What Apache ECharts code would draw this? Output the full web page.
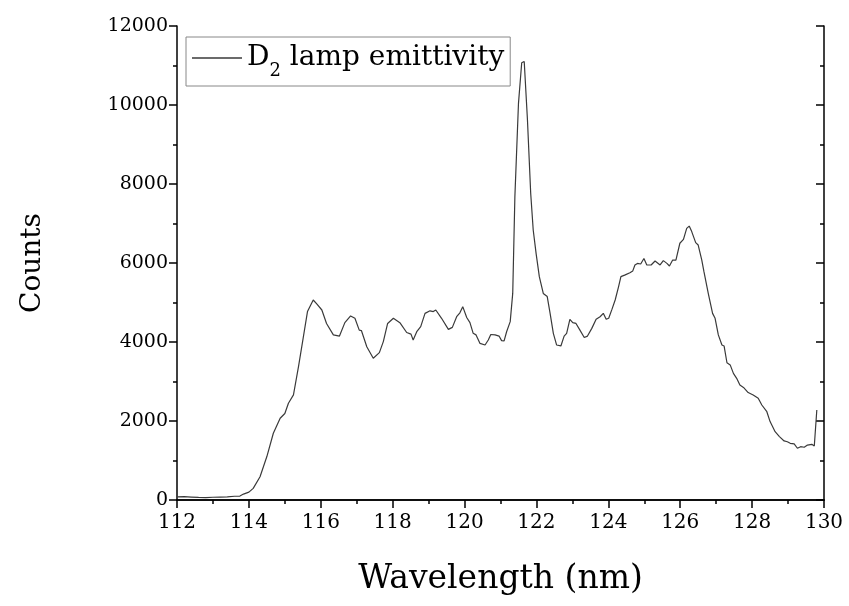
<!DOCTYPE html>
<html>
<head>
<meta charset="utf-8">
<script src="https://cdn.jsdelivr.net/npm/echarts@6/dist/echarts.min.js"></script>
<style>html,body{margin:0;padding:0;background:#fff}#c{width:849px;height:606px}</style>
</head>
<body>
<div id="c"></div>
<script>
const wavelength = [112.0,112.2,112.4,112.6,112.8,113.0,113.2,113.4,113.6,113.75,113.85,114.0,114.12,114.31,114.5,114.68,114.87,115.0,115.1,115.24,115.38,115.51,115.63,115.79,115.9,116.03,116.16,116.35,116.52,116.67,116.83,116.95,117.07,117.13,117.28,117.46,117.63,117.74,117.86,118.02,118.2,118.39,118.51,118.57,118.67,118.78,118.9,119.04,119.13,119.2,119.36,119.55,119.66,119.78,119.87,119.95,120.0,120.06,120.15,120.24,120.32,120.43,120.57,120.66,120.73,120.85,120.96,121.03,121.1,121.17,121.27,121.34,121.4,121.5,121.59,121.66,121.75,121.84,121.91,121.99,122.08,122.19,122.3,122.38,122.47,122.56,122.68,122.77,122.84,122.93,123.01,123.1,123.21,123.33,123.42,123.54,123.66,123.77,123.86,123.94,124.01,124.1,124.19,124.28,124.35,124.47,124.6,124.68,124.74,124.81,124.9,124.99,125.07,125.19,125.3,125.44,125.53,125.63,125.7,125.79,125.88,125.99,126.09,126.18,126.25,126.32,126.43,126.5,126.6,126.66,126.78,126.9,126.97,127.06,127.16,127.22,127.3,127.39,127.48,127.57,127.66,127.76,127.89,128.03,128.17,128.27,128.41,128.5,128.64,128.76,128.89,128.98,129.06,129.17,129.26,129.35,129.45,129.54,129.66,129.73,129.8];
const counts = [80,85,75,65,60,70,75,80,95,100,150,200,295,590,1100,1690,2070,2190,2450,2660,3375,4100,4770,5063,4950,4810,4470,4180,4150,4490,4660,4600,4300,4290,3880,3590,3730,4010,4470,4600,4490,4240,4200,4050,4260,4390,4725,4790,4770,4810,4600,4320,4370,4640,4740,4895,4880,4620,4490,4220,4180,3965,3925,4050,4190,4180,4150,4035,4030,4260,4515,5230,7680,10040,11070,11100,9620,7765,6835,6245,5655,5230,5150,4725,4220,3925,3900,4150,4220,4575,4490,4470,4300,4115,4150,4345,4575,4640,4725,4575,4600,4825,5063,5385,5655,5700,5755,5800,5950,5990,5975,6115,5950,5950,6050,5950,6060,5990,5925,6075,6075,6500,6600,6875,6935,6795,6515,6455,6075,5780,5230,4725,4600,4180,3925,3900,3475,3420,3205,3080,2910,2850,2720,2660,2575,2405,2235,1985,1730,1605,1495,1475,1435,1420,1310,1350,1335,1390,1410,1365,2280];
const xTicks = {min:112, max:130, interval:2};
const yTicks = {min:0, max:12000, interval:2000};
const seriesName = 'D2 lamp emittivity';

const FONT = 'DejaVu Serif';
const chart = echarts.init(document.getElementById('c'), null, {renderer:'canvas'});
const axisLine = {show:true, lineStyle:{color:'#000', width:1.5}};
const plain = v => String(v);
const baseX = {type:'value', min:xTicks.min, max:xTicks.max, interval:xTicks.interval, splitLine:{show:false}, axisLine:axisLine};
const baseY = {type:'value', min:yTicks.min, max:yTicks.max, interval:yTicks.interval, splitLine:{show:false}, axisLine:axisLine};
chart.setOption({
  animation:false,
  backgroundColor:'#fff',
  grid:{left:177, right:25, top:26, bottom:106, containLabel:false},
  legend:{
    left:186, top:37, orient:'vertical',
    data:[seriesName],
    icon:'rect',
    itemWidth:50, itemHeight:1.3, itemGap:0,
    padding:[7,6,6,6],
    borderColor:'#888', borderWidth:1,
    formatter:function(){ return '{a|D}{s|2}{a| lamp emittivity}'; },
    textStyle:{fontFamily:FONT, color:'#000', rich:{
      a:{fontFamily:FONT, fontSize:28, color:'#000', verticalAlign:'bottom', lineHeight:28},
      s:{fontFamily:FONT, fontSize:18, color:'#000', verticalAlign:'bottom', lineHeight:20, padding:[0,0,-8,0]}
    }}
  },
  xAxis:[
    Object.assign({}, baseX, {position:'bottom',
      name:'Wavelength (nm)', nameLocation:'middle', nameGap:63,
      nameTextStyle:{fontFamily:FONT, fontSize:33, color:'#000'},
      axisTick:{show:true, inside:false, length:8, lineStyle:{color:'#000', width:1.5}},
      minorTick:{show:true, splitNumber:2, length:4, lineStyle:{color:'#000', width:1.5}},
      axisLabel:{fontFamily:FONT, fontSize:20, color:'#000', margin:13, formatter:plain}}),
    Object.assign({}, baseX, {position:'top',
      axisTick:{show:true, inside:true, length:8, lineStyle:{color:'#000', width:1.5}},
      minorTick:{show:true, splitNumber:2, length:4, lineStyle:{color:'#000', width:1.5}},
      axisLabel:{show:false}})
  ],
  yAxis:[
    Object.assign({}, baseY, {position:'left',
      name:'Counts', nameLocation:'middle', nameGap:130,
      nameTextStyle:{fontFamily:FONT, fontSize:28, color:'#000'},
      axisTick:{show:true, inside:false, length:8, lineStyle:{color:'#000', width:1.5}},
      minorTick:{show:true, splitNumber:2, length:4, lineStyle:{color:'#000', width:1.5}},
      axisLabel:{fontFamily:FONT, fontSize:19, color:'#000', margin:9, formatter:plain}}),
    Object.assign({}, baseY, {position:'right',
      axisTick:{show:true, inside:true, length:8, lineStyle:{color:'#000', width:1.5}},
      minorTick:{show:true, splitNumber:2, length:4, lineStyle:{color:'#000', width:1.5}},
      axisLabel:{show:false}})
  ],
  series:[{
    name:seriesName, type:'line', xAxisIndex:0, yAxisIndex:0,
    data: wavelength.map((w,i)=>[w, counts[i]]),
    symbol:'none', showSymbol:false,
    lineStyle:{color:'#3a3a3a', width:1.2},
    itemStyle:{color:'#3a3a3a'}
  }]
});
</script>
</body>
</html>
